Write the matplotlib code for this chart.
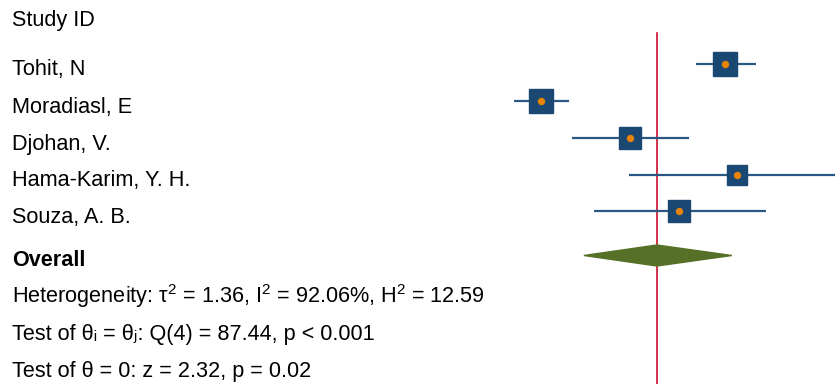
import matplotlib.pyplot as plt
from matplotlib.patches import Polygon

plt.rcParams['font.family'] = ['Liberation Sans', 'DejaVu Sans']
plt.rcParams['mathtext.fontset'] = 'custom'
plt.rcParams['mathtext.rm'] = 'Liberation Sans'

# study-level estimates, 95% CI and weights (%)
studies = ['Tohit, N', 'Moradiasl, E', 'Djohan, V.', 'Hama-Karim, Y. H.', 'Souza, A. B.']
est = [3.11, -0.57, 1.21, 3.35, 2.19]
lo = [2.53, -1.11, 0.05, 1.19, 0.49]
hi = [3.73, -0.01, 2.39, 5.51, 3.93]
weight = [22.4, 22.4, 20.6, 16.4, 18.2]

overall = 1.75
overall_lo = 0.29
overall_hi = 3.25

stats = [
    r'Heterogeneity: τ$^\mathrm{2}$ = 1.36, I$^\mathrm{2}$ = 92.06%, H$^\mathrm{2}$ = 12.59',
    'Test of θᵢ = θⱼ: Q(4) = 87.44, p < 0.001',
    'Test of θ = 0: z = 2.32, p = 0.02',
]

W, H = 835, 384
fig = plt.figure(figsize=(W / 100, H / 100), dpi=100)

# forest panel on the right; x scale 50 px per unit, zero at 569.4 px
x0 = 500
ax = fig.add_axes([x0 / W, 0, 1 - x0 / W, 1])
ax.set_xlim((x0 - 569.4) / 50, (W - 569.4) / 50)
# rows: y in pixels from the top
ax.set_ylim(H, 0)
ax.axis('off')

row_y = [64, 101, 138, 175, 211]
diam_y = 255.5

ax.plot([overall, overall], [33, H], color='#c8102e', lw=1.2, zorder=1)

navy = '#1a4873'
for e, l, h, w, y in zip(est, lo, hi, weight, row_y):
    ax.plot([l, h], [y, y], color='#2b5785', lw=1.6, zorder=2, solid_capstyle='butt')
    ax.plot(e, y, marker='s', ms=5.0 * w ** 0.5 * 0.72, color=navy,
            markeredgecolor=navy, ls='none', zorder=3)
    ax.plot(e, y, marker='o', ms=4.3, color='#e8830a', ls='none', zorder=4)

diamond = Polygon([[overall_lo, diam_y], [overall, diam_y - 10.5],
                   [overall_hi, diam_y], [overall, diam_y + 10.5]],
                  closed=True, color='#567127', zorder=5)
ax.add_patch(diamond)

# left-hand text column, placed by baseline
fs = 15.6
def txt(y, s, **kw):
    fig.text(12 / W, 1 - y / H, s, fontsize=fs, va='baseline', ha='left', **kw)

txt(26, 'Study ID')
for name, y in zip(studies, row_y):
    txt(y + 11.5, name)
txt(266.5, 'Overall', fontweight='bold')
for s, y in zip(stats, [303, 340, 377]):
    txt(y, s)

fig.savefig('out.png', dpi=100)
